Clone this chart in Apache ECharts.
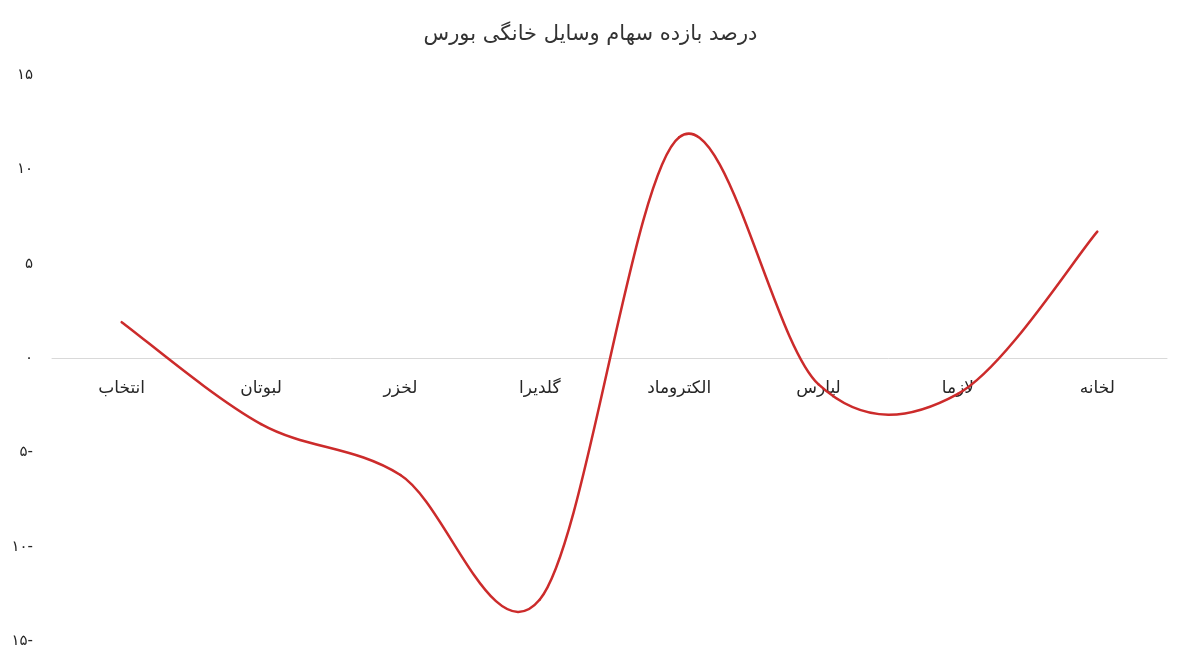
<!DOCTYPE html>
<html>
<head>
<meta charset="utf-8">
<script src="https://cdn.jsdelivr.net/npm/echarts@6/dist/echarts.min.js"></script>
<style>
  html, body { margin: 0; padding: 0; background: #fff; }
  #chart { width: 1181px; height: 665px; }
</style>
</head>
<body>
<div id="chart"></div>
<script>
// نمادها و درصد بازده
const namads = ['انتخاب', 'لبوتان', 'لخزر', 'گلدیرا', 'الکتروماد', 'لپارس', 'لازما', 'لخانه'];
const bazdeh = [1.9, -3.5, -6.2, -12.8, 11.7, -1.4, -1.9, 6.7];
const yTicks = [-15, -10, -5, 0, 5, 10, 15];

const faDigits = '۰۱۲۳۴۵۶۷۸۹';
function toFa(n) {
    const s = String(Math.abs(n)).replace(/\d/g, d => faDigits[d]);
    return n < 0 ? s + '-' : s;
}

// منحنی نرم مثل اکسل (کاتمول-رام) بین هر دو نقطه
function renderSegment(params, api) {
    const i = params.dataIndex;
    if (i >= bazdeh.length - 1) return null;
    const last = bazdeh.length - 1;
    const p = k => api.coord([Math.min(Math.max(k, 0), last), bazdeh[Math.min(Math.max(k, 0), last)]]);
    const p0 = p(i - 1), p1 = p(i), p2 = p(i + 1), p3 = p(i + 2);
    return {
        type: 'bezierCurve',
        shape: {
            x1: p1[0], y1: p1[1],
            cpx1: p1[0] + (p2[0] - p0[0]) / 6,
            cpy1: p1[1] + (p2[1] - p0[1]) / 6,
            cpx2: p2[0] - (p3[0] - p1[0]) / 6,
            cpy2: p2[1] - (p3[1] - p1[1]) / 6,
            x2: p2[0], y2: p2[1]
        },
        style: { stroke: '#cc2b2b', lineWidth: 2.5, fill: null, lineCap: 'round' }
    };
}

const chart = echarts.init(document.getElementById('chart'));

chart.setOption({
    backgroundColor: '#fff',
    title: {
        text: 'درصد بازده سهام وسایل خانگی بورس',
        left: 'center',
        top: 19,
        textStyle: { fontFamily: 'DejaVu Sans', fontSize: 21, fontWeight: 'normal', color: '#333' }
    },
    grid: { left: 52, right: 14, top: 75, bottom: 24, outerBoundsMode: 'none', containLabel: false },
    xAxis: {
        type: 'category',
        data: namads,
        offset: -283,
        axisLine: { onZero: false, lineStyle: { color: '#d9d9d9', width: 1 } },
        axisTick: { show: false },
        axisLabel: { margin: 22, fontFamily: 'DejaVu Sans', fontSize: 17, color: '#262626' }
    },
    yAxis: {
        type: 'value',
        min: yTicks[0],
        max: yTicks[yTicks.length - 1],
        interval: 5,
        axisLine: { show: false },
        axisTick: { show: false },
        splitLine: { show: false },
        axisLabel: {
            margin: 19,
            fontFamily: 'DejaVu Sans',
            fontSize: 15,
            color: '#262626',
            formatter: v => toFa(v)
        }
    },
    series: [{
        type: 'custom',
        renderItem: renderSegment,
        data: bazdeh.map((v, i) => [i, v]),
        encode: { x: 0, y: 1 }
    }]
});
</script>
</body>
</html>
